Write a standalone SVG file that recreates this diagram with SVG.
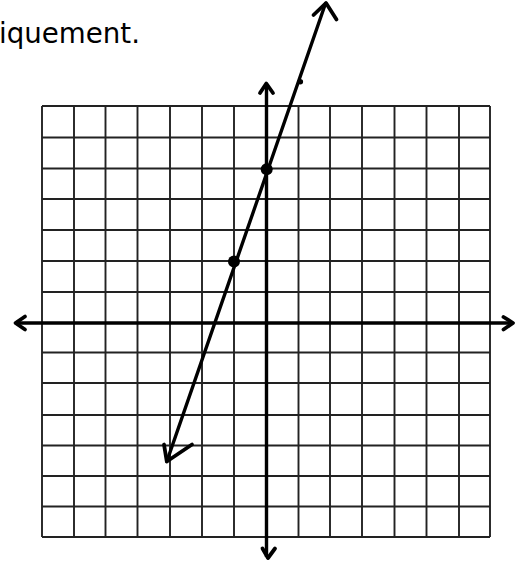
<svg xmlns="http://www.w3.org/2000/svg" width="518" height="564" viewBox="0 0 518 564">
<style>
.grid line{stroke:#222;stroke-width:1.9}
.axis{stroke:#000;stroke-width:3.4;fill:none}
.head{stroke:#000;stroke-width:3.8;fill:none;stroke-linecap:round;stroke-linejoin:round}
.plot{stroke:#000;stroke-width:3.4;fill:none;stroke-linecap:round}
.dot{fill:#000}
.txt{font-family:"DejaVu Sans","Liberation Sans",sans-serif;font-size:29px;fill:#000}
</style>
<rect width="518" height="564" fill="#fff"/>
<g id="title"><text class="txt" x="-1" y="43" textLength="141" lengthAdjust="spacingAndGlyphs">iquement.</text></g>
<g id="grid" class="grid">
<line x1="42" y1="106" x2="42" y2="537"/>
<line x1="74" y1="106" x2="74" y2="537"/>
<line x1="105.5" y1="106" x2="105.5" y2="537"/>
<line x1="137.5" y1="106" x2="137.5" y2="537"/>
<line x1="170" y1="106" x2="170" y2="537"/>
<line x1="202" y1="106" x2="202" y2="537"/>
<line x1="234" y1="106" x2="234" y2="537"/>
<line x1="298.5" y1="106" x2="298.5" y2="537"/>
<line x1="330" y1="106" x2="330" y2="537"/>
<line x1="362" y1="106" x2="362" y2="537"/>
<line x1="394.5" y1="106" x2="394.5" y2="537"/>
<line x1="426.5" y1="106" x2="426.5" y2="537"/>
<line x1="459" y1="106" x2="459" y2="537"/>
<line x1="490" y1="106" x2="490" y2="537"/>
<line x1="42" y1="106" x2="490" y2="106"/>
<line x1="42" y1="137.5" x2="490" y2="137.5"/>
<line x1="42" y1="168.5" x2="490" y2="168.5"/>
<line x1="42" y1="199" x2="490" y2="199"/>
<line x1="42" y1="230" x2="490" y2="230"/>
<line x1="42" y1="261" x2="490" y2="261"/>
<line x1="42" y1="292" x2="490" y2="292"/>
<line x1="42" y1="352.5" x2="490" y2="352.5"/>
<line x1="42" y1="383" x2="490" y2="383"/>
<line x1="42" y1="415" x2="490" y2="415"/>
<line x1="42" y1="445.5" x2="490" y2="445.5"/>
<line x1="42" y1="476" x2="490" y2="476"/>
<line x1="42" y1="506.5" x2="490" y2="506.5"/>
<line x1="42" y1="537" x2="490" y2="537"/>
</g>
<g id="axes">
<line class="axis" x1="16" y1="323" x2="512" y2="323"/>
<line class="axis" x1="266.5" y1="84" x2="266.5" y2="557"/>
<path class="head" d="M25,316.5 L15.5,323 L25,329.5"/>
<path class="head" d="M503.5,317 L513,323 L503.5,329.5"/>
<path class="head" d="M260,93 L266.3,83.5 L273,93"/>
<path class="head" d="M262.5,548.5 L268,558 L275,548.5"/>
</g>
<g id="connectors">
<line class="plot" x1="325.5" y1="3.5" x2="166.8" y2="461.5"/>
<path class="head" d="M313.5,15 L326,3 L336.5,19.5"/>
<path class="head" d="M164,444.5 L166.8,461.5 L192,444.5"/>
</g>
<g id="points">
<circle class="dot" cx="266.7" cy="169.3" r="6"/>
<circle class="dot" cx="234" cy="261.5" r="6"/>
<circle class="dot" cx="300.3" cy="81.7" r="2.8"/>
</g>
</svg>
